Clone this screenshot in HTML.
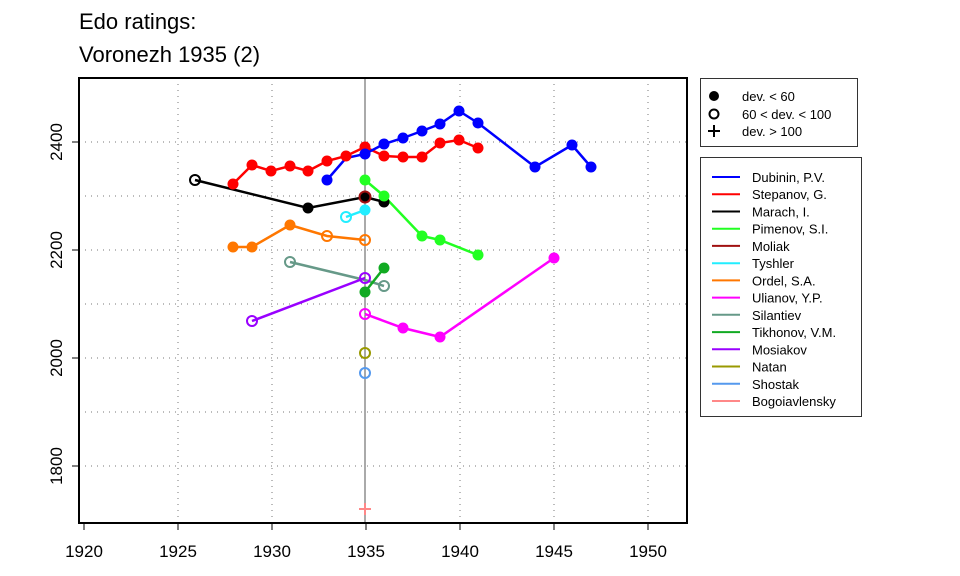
<!DOCTYPE html>
<html><head><style>body{margin:0;background:#fff}svg{display:block}</style></head><body>
<svg width="960" height="576" xmlns="http://www.w3.org/2000/svg" font-family="Liberation Sans, sans-serif">
<text x="79" y="29" font-size="22">Edo ratings:</text>
<text x="79" y="62" font-size="22">Voronezh 1935 (2)</text>
<g stroke="#777" stroke-dasharray="1,5" stroke-width="1">
<line x1="79" x2="687" y1="142" y2="142"/><line x1="79" x2="687" y1="196" y2="196"/>
<line x1="79" x2="687" y1="250" y2="250"/><line x1="79" x2="687" y1="304" y2="304"/>
<line x1="79" x2="687" y1="358" y2="358"/><line x1="79" x2="687" y1="412" y2="412"/>
<line x1="79" x2="687" y1="466" y2="466"/>
<line x1="178" x2="178" y1="78" y2="523"/><line x1="272" x2="272" y1="78" y2="523"/>
<line x1="460" x2="460" y1="78" y2="523"/><line x1="554" x2="554" y1="78" y2="523"/>
<line x1="648" x2="648" y1="78" y2="523"/>
</g>
<line x1="365" x2="365" y1="78" y2="523" stroke="#555" stroke-width="1"/>
<g stroke-width="2.5" fill="none">
<polyline stroke="#f00" points="233,184 252,165 271,171 290,166 308,171 327,161 346,156 365,147 384,156 403,157 422,157 440,143 459,140 478,148"/>
<polyline stroke="#00f" points="327,180 346,158 365,154 384,144 403,138 422,131 440,124 459,111 478,123 535,167 572,145 591,167"/>
<polyline stroke="#000" points="195,180 308,208 365,197 384,202"/>
<polyline stroke="#2f2" points="365,180 384,196 422,236 440,240 478,255"/>
<polyline stroke="#2ef" points="346,217 365,210"/>
<polyline stroke="#f70" points="233,247 252,247 290,225 327,236 365,240"/>
<polyline stroke="#698" points="290,262 365,280 384,286"/>
<polyline stroke="#1a2" points="365,292 384,268"/>
<polyline stroke="#90f" points="252,321 365,278"/>
<polyline stroke="#f0f" points="365,314 403,328 440,337 554,258"/>
</g>
<g stroke="none">
<g fill="#f00"><circle cx="233" cy="184" r="5.5"/><circle cx="252" cy="165" r="5.5"/><circle cx="271" cy="171" r="5.5"/><circle cx="290" cy="166" r="5.5"/><circle cx="308" cy="171" r="5.5"/><circle cx="327" cy="161" r="5.5"/><circle cx="346" cy="156" r="5.5"/><circle cx="365" cy="147" r="5.5"/><circle cx="384" cy="156" r="5.5"/><circle cx="403" cy="157" r="5.5"/><circle cx="422" cy="157" r="5.5"/><circle cx="440" cy="143" r="5.5"/><circle cx="459" cy="140" r="5.5"/><circle cx="478" cy="148" r="5.5"/></g>
<g fill="#00f"><circle cx="327" cy="180" r="5.5"/><circle cx="365" cy="154" r="5.5"/><circle cx="384" cy="144" r="5.5"/><circle cx="403" cy="138" r="5.5"/><circle cx="422" cy="131" r="5.5"/><circle cx="440" cy="124" r="5.5"/><circle cx="459" cy="111" r="5.5"/><circle cx="478" cy="123" r="5.5"/><circle cx="535" cy="167" r="5.5"/><circle cx="572" cy="145" r="5.5"/><circle cx="591" cy="167" r="5.5"/></g>
<g fill="#000"><circle cx="308" cy="208" r="5.5"/><circle cx="384" cy="202" r="5.5"/></g>
<circle cx="365" cy="197" r="5.5" fill="#000" stroke="#a01010" stroke-width="2"/>
<g fill="#2f2"><circle cx="365" cy="180" r="5.5"/><circle cx="384" cy="196" r="5.5"/><circle cx="422" cy="236" r="5.5"/><circle cx="440" cy="240" r="5.5"/><circle cx="478" cy="255" r="5.5"/></g>
<circle cx="365" cy="210" r="5.5" fill="#2ef"/>
<g fill="#f70"><circle cx="233" cy="247" r="5.5"/><circle cx="252" cy="247" r="5.5"/><circle cx="290" cy="225" r="5.5"/></g>
<g fill="#1a2"><circle cx="365" cy="292" r="5.5"/><circle cx="384" cy="268" r="5.5"/></g>
<g fill="#f0f"><circle cx="403" cy="328" r="5.5"/><circle cx="440" cy="337" r="5.5"/><circle cx="554" cy="258" r="5.5"/></g>
</g>
<g fill="none" stroke-width="2">
<circle cx="195" cy="180" r="5" stroke="#000"/>
<circle cx="346" cy="217" r="5" stroke="#2ef"/>
<circle cx="327" cy="236" r="5" stroke="#f70"/><circle cx="365" cy="240" r="5" stroke="#f70"/>
<circle cx="290" cy="262" r="5" stroke="#698"/><circle cx="384" cy="286" r="5" stroke="#698"/>
<circle cx="252" cy="321" r="5" stroke="#90f"/><circle cx="365" cy="278" r="5" stroke="#90f"/>
<circle cx="365" cy="314" r="5" stroke="#f0f"/>
<circle cx="365" cy="353" r="5" stroke="#990"/>
<circle cx="365" cy="373" r="5" stroke="#59e"/>
</g>
<g stroke="#f88" stroke-width="2"><line x1="359" x2="371" y1="509" y2="509"/><line x1="365" x2="365" y1="503" y2="515"/></g>
<rect x="79" y="78" width="608" height="445" fill="none" stroke="#000" stroke-width="2"/>
<g stroke="#000" stroke-width="1">
<line x1="84" x2="84" y1="523" y2="530"/><line x1="178" x2="178" y1="523" y2="530"/><line x1="272" x2="272" y1="523" y2="530"/><line x1="366" x2="366" y1="523" y2="530"/><line x1="460" x2="460" y1="523" y2="530"/><line x1="554" x2="554" y1="523" y2="530"/><line x1="648" x2="648" y1="523" y2="530"/>
<line x1="72" x2="79" y1="142" y2="142"/><line x1="72" x2="79" y1="250" y2="250"/><line x1="72" x2="79" y1="358" y2="358"/><line x1="72" x2="79" y1="466" y2="466"/>
</g>
<g font-size="17" text-anchor="middle">
<text x="84" y="557">1920</text><text x="178" y="557">1925</text><text x="272" y="557">1930</text><text x="366" y="557">1935</text><text x="460" y="557">1940</text><text x="554" y="557">1945</text><text x="648" y="557">1950</text>
<text transform="translate(62,142) rotate(-90)">2400</text><text transform="translate(62,250) rotate(-90)">2200</text><text transform="translate(62,358) rotate(-90)">2000</text><text transform="translate(62,466) rotate(-90)">1800</text>
</g>
<rect x="700.5" y="78.5" width="157" height="68" fill="#fff" stroke="#333"/>
<circle cx="714" cy="96" r="5" fill="#000"/>
<circle cx="714" cy="114" r="4.5" fill="none" stroke="#000" stroke-width="2"/>
<g stroke="#000" stroke-width="2"><line x1="708" x2="720" y1="131" y2="131"/><line x1="714" x2="714" y1="125" y2="137"/></g>
<g font-size="13"><text x="742" y="101">dev. &lt; 60</text><text x="742" y="119">60 &lt; dev. &lt; 100</text><text x="742" y="136">dev. &gt; 100</text></g>
<rect x="700.5" y="157.5" width="161" height="259" fill="#fff" stroke="#333"/>
<g stroke-width="2">
<line x1="712" x2="740" y1="177" y2="177" stroke="#00f"/><line x1="712" x2="740" y1="194.2" y2="194.2" stroke="#f00"/><line x1="712" x2="740" y1="211.5" y2="211.5" stroke="#000"/><line x1="712" x2="740" y1="228.7" y2="228.7" stroke="#2f2"/><line x1="712" x2="740" y1="245.9" y2="245.9" stroke="#a01010"/><line x1="712" x2="740" y1="263.2" y2="263.2" stroke="#2ef"/><line x1="712" x2="740" y1="280.4" y2="280.4" stroke="#f70"/><line x1="712" x2="740" y1="297.6" y2="297.6" stroke="#f0f"/><line x1="712" x2="740" y1="314.8" y2="314.8" stroke="#698"/><line x1="712" x2="740" y1="332.1" y2="332.1" stroke="#1a2"/><line x1="712" x2="740" y1="349.3" y2="349.3" stroke="#90f"/><line x1="712" x2="740" y1="366.5" y2="366.5" stroke="#990"/><line x1="712" x2="740" y1="383.8" y2="383.8" stroke="#59e"/><line x1="712" x2="740" y1="401" y2="401" stroke="#f88"/>
</g>
<g font-size="13">
<text x="752" y="182">Dubinin, P.V.</text><text x="752" y="199.2">Stepanov, G.</text><text x="752" y="216.5">Marach, I.</text><text x="752" y="233.7">Pimenov, S.I.</text><text x="752" y="250.9">Moliak</text><text x="752" y="268.2">Tyshler</text><text x="752" y="285.4">Ordel, S.A.</text><text x="752" y="302.6">Ulianov, Y.P.</text><text x="752" y="319.8">Silantiev</text><text x="752" y="337.1">Tikhonov, V.M.</text><text x="752" y="354.3">Mosiakov</text><text x="752" y="371.5">Natan</text><text x="752" y="388.8">Shostak</text><text x="752" y="406">Bogoiavlensky</text>
</g>
</svg>
</body></html>
